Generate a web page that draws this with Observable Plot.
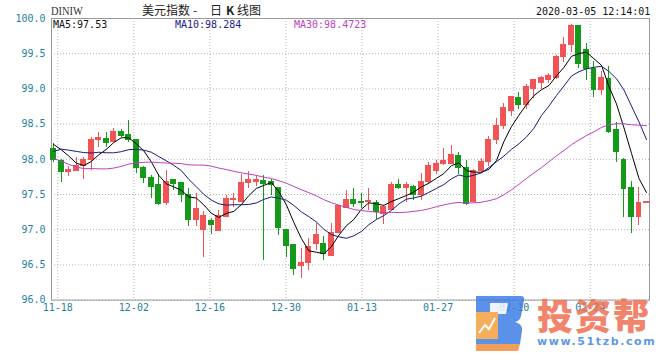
<!DOCTYPE html>
<html><head><meta charset="utf-8">
<script src="https://cdn.jsdelivr.net/npm/d3@7"></script>
<script src="https://cdn.jsdelivr.net/npm/@observablehq/plot@0.6"></script>
<style>
body{margin:0;background:#fff;}
#wrap{position:relative;width:660px;height:360px;overflow:hidden;}
#wrap svg{position:absolute;left:0;top:0;}
.t{position:absolute;white-space:nowrap;line-height:1;font-family:"DejaVu Sans Mono",monospace;font-size:10px;}
</style></head><body><div id="wrap"></div>
<script>
// Daily candles 2019-11-15 .. 2020-03-05 (index 0..79)
const open  = [98.15,97.98,97.82,97.83,97.90,97.99,98.28,98.29,98.25,98.39,
               98.34,98.27,97.87,97.73,97.63,97.38,97.71,97.66,97.49,97.14,
               97.00,97.13,96.98,97.18,97.42,97.40,97.67,97.68,97.69,97.68,
               97.59,97.00,96.78,96.49,96.52,96.79,96.79,96.62,96.95,97.31,
               97.42,97.40,97.39,97.38,97.22,97.28,97.63,97.59,97.61,97.49,
               97.68,97.83,97.93,97.94,98.05,97.87,97.40,97.83,97.96,98.27,
               98.47,98.69,98.87,98.77,99.00,99.08,99.12,99.15,99.46,99.63,
               99.90,99.55,99.28,98.98,99.14,98.42,97.99,97.59,97.18,97.38];
const high  = [98.23,98.00,97.90,98.03,98.03,98.31,98.38,98.38,98.44,98.43,
               98.55,98.28,97.90,97.77,97.79,97.84,97.72,97.67,97.59,97.51,
               97.26,97.16,97.27,97.49,97.51,97.78,97.82,97.77,97.77,97.71,
               97.60,97.00,96.78,96.74,96.87,97.09,96.90,97.09,97.34,97.56,
               97.58,97.52,97.58,97.41,97.34,97.67,97.72,97.67,97.63,97.80,
               97.96,97.99,98.15,98.20,98.09,97.98,97.86,98.01,98.32,98.58,
               98.79,98.89,98.95,99.06,99.12,99.18,99.22,99.48,99.73,99.92,
               99.90,99.65,99.39,99.25,99.32,98.52,98.01,97.69,97.60,97.40];
const low   = [97.96,97.67,97.76,97.82,97.72,97.84,98.17,98.17,98.24,98.31,
               98.24,97.80,97.65,97.44,97.35,97.34,97.56,97.39,97.04,97.05,
               96.61,96.93,96.98,97.17,97.32,97.38,97.59,97.62,96.56,97.49,
               96.92,96.61,96.35,96.30,96.42,96.71,96.56,96.62,96.94,97.31,
               97.32,97.30,97.27,97.15,97.08,97.27,97.57,97.39,97.41,97.42,
               97.65,97.79,97.91,97.93,97.79,97.35,97.40,97.80,97.90,98.21,
               98.42,98.61,98.71,98.71,98.87,98.99,99.08,99.14,99.38,99.52,
               99.29,99.12,98.88,98.91,98.37,97.95,97.18,96.94,97.06,97.37];
const close = [97.99,97.82,97.85,97.90,97.99,98.28,98.30,98.23,98.39,98.33,
               98.28,97.87,97.73,97.61,97.37,97.68,97.65,97.49,97.14,97.29,
               97.19,97.06,97.19,97.43,97.43,97.67,97.70,97.70,97.65,97.63,
               97.02,96.77,96.44,96.52,96.75,96.92,96.66,96.95,97.33,97.42,
               97.37,97.38,97.41,97.25,97.32,97.64,97.59,97.63,97.50,97.68,
               97.90,97.94,97.97,98.06,97.87,97.36,97.83,97.96,98.27,98.48,
               98.73,98.88,98.77,99.02,99.12,99.15,99.18,99.46,99.62,99.90,
               99.35,99.28,98.99,99.16,98.39,98.11,97.58,97.18,97.38,97.39];
// closes of the 29 sessions before the first visible candle (estimated so the MA lines start where the picture shows them)
const priorCloses = [98.97,99.13,99.08,98.65,98.30,98.36,98.30,98.01,97.64,97.28,
                     97.34,97.52,97.50,97.60,97.83,97.76,97.64,97.68,97.35,97.24,
                     97.51,97.99,98.08,98.15,98.35,98.19,98.30,98.40,98.17];
const maPeriods = [5, 10, 30];
const maLegend  = ["MA5:97.53", "MA10:98.284", "MA30:98.4723"];
const yTicks = [96.0, 96.5, 97.0, 97.5, 98.0, 98.5, 99.0, 99.5, 100.0];
const tickLabels = ["11-18","12-02","12-16","12-30","01-13","01-27","02-10","02-24"];
const titleParts = ["美元指数", "-", "日", "<b>K</b>", "线图"];

const RED = "#f05454", GREEN = "#15991a";
const maColors = ["#000000", "#1b1b78", "#c23ec2"];
const TEAL = "#1f7f9f";

const candles = close.map((c, i) => ({i, open: open[i], high: high[i], low: low[i], close: c, up: c >= open[i]}));
const allCloses = priorCloses.concat(close);
const P = priorCloses.length;
const maSeries = maPeriods.map(n => close.map((_, i) => ({i, ma: d3.mean(allCloses.slice(P + i - n + 1, P + i + 1))})));

// vertical grid lines: evenly spaced divisions labelled with the nearest session date
const gridK = tickLabels.map((_, j) => 0.54 + 10.137 * j);
const labelAt = new Map(gridK.map((k, j) => [k, tickLabels[j]]));

const upC = candles.filter(d => d.up), dnC = candles.filter(d => !d.up);
const dotted = {stroke: "#b4b4b4", strokeDasharray: "1,2", strokeWidth: 1};

const chart = Plot.plot({
  width: 660, height: 360,
  marginLeft: 51, marginRight: 11, marginTop: 18, marginBottom: 60.4,
  style: {color: TEAL, fontFamily: "DejaVu Sans Mono, monospace", fontSize: "10px", background: "transparent"},
  x: {type: "linear", domain: [-0.3, 79.4], ticks: gridK, tickFormat: d => labelAt.get(d) ?? "", tickSize: 0, tickPadding: 4, label: null},
  y: {domain: [96, 100], ticks: yTicks, tickFormat: ".1f", tickSize: 0, tickPadding: 6, label: null},
  marks: [
    Plot.ruleY(yTicks, dotted),
    Plot.ruleX(gridK, dotted),
    Plot.frame({stroke: "#9a9a9a"}),
    Plot.ruleX(upC, {x: "i", y1: "low", y2: "high", stroke: RED, shapeRendering: "crispEdges"}),
    Plot.ruleX(dnC, {x: "i", y1: "low", y2: "high", stroke: GREEN, shapeRendering: "crispEdges"}),
    Plot.rect(upC, {x1: d => d.i - 0.33, x2: d => d.i + 0.33, y1: "open", y2: "close", fill: RED, stroke: RED, shapeRendering: "crispEdges"}),
    Plot.rect(dnC, {x1: d => d.i - 0.33, x2: d => d.i + 0.33, y1: "open", y2: "close", fill: GREEN, stroke: GREEN, shapeRendering: "crispEdges"}),
    ...maSeries.map((s, k) => Plot.line(s, {x: "i", y: "ma", stroke: maColors[k], strokeWidth: 1, curve: "linear"}))
  ]
});
const wrap = document.getElementById("wrap");
wrap.appendChild(chart);

function addText(txt, left, top, css) {
  const d = document.createElement("div");
  d.className = "t";
  d.innerHTML = txt;
  d.style.left = left + "px"; d.style.top = top + "px";
  Object.assign(d.style, css || {});
  wrap.appendChild(d);
  return d;
}
addText("DINIW", 51, 4, {fontFamily: "Liberation Serif, serif", fontSize: "13px", color: "#333", transform: "scaleX(0.8)", transformOrigin: "0 0"});
const titleX = [142, 193, 210, 226, 237];
const titleCss = {fontFamily: "Noto Sans CJK SC, sans-serif", fontSize: "12px", color: "#222"};
titleParts.forEach((s, k) => addText(s, titleX[k], 4, titleCss));
addText("2020-03-05 12:14:01", 536, 7, {color: "#111"});
const legendX = [53, 175, 294];
maLegend.forEach((s, k) => addText(s, legendX[k], 20, {color: k === 0 ? "#111" : (k === 1 ? "#22228c" : "#c23ec2")}));

// watermark
const wm = document.createElementNS("http://www.w3.org/2000/svg", "svg");
wm.setAttribute("width", 660); wm.setAttribute("height", 360);
wm.style.position = "absolute"; wm.style.left = "0"; wm.style.top = "0";
wm.innerHTML = `
<g opacity="0.85">
<path d="M476,296 L521,296 Q525,296 524,301 L521,316 Q520,321 515,322 Q523,324 522,331 L520,344 L476,344 Z" fill="#3f7ee6"/>
<path d="M490,303 L508,303 L506,314 L490,314 Z" fill="#fff" opacity="0.9"/>
<rect x="476" y="312" width="22" height="27" fill="#f4a23f"/>
<polyline points="479,333 485,325 489,329 495,318" fill="none" stroke="#fff" stroke-width="2"/>
<path d="M476,344 L520,344 L518,351 L476,351 Z" fill="#f08c3c"/>
</g>`;
wrap.appendChild(wm);
addText("投资帮", 537, 296, {fontFamily: "Noto Sans CJK SC, sans-serif", fontSize: "36px", fontWeight: "900", color: "rgba(240,110,80,0.85)", letterSpacing: "2px"});
addText("www.51tzb.com", 537, 336, {fontFamily: "DejaVu Sans, sans-serif", fontSize: "11px", fontWeight: "bold", color: "rgba(70,140,225,0.9)", letterSpacing: "1.6px"});
</script></body></html>
